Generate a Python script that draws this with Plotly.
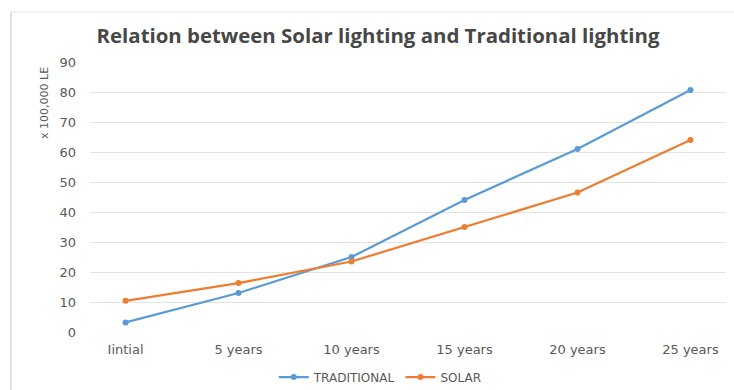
import plotly.graph_objects as go

categories = ["Iintial", "5 years", "10 years", "15 years", "20 years", "25 years"]
traditional = [3.2, 13.0, 25.0, 44.0, 61.0, 80.7]
solar = [10.4, 16.3, 23.5, 35.0, 46.5, 64.0]
y_ticks = [0, 10, 20, 30, 40, 50, 60, 70, 80, 90]

BLUE = "#5b9bd5"
ORANGE = "#ed7d31"
GRAY = "#595959"
FONT = "DejaVu Sans, sans-serif"

fig = go.Figure()
fig.add_trace(go.Scatter(x=categories, y=traditional, name="TRADITIONAL",
                         mode="lines+markers",
                         line=dict(color=BLUE, width=2.25),
                         marker=dict(color=BLUE, size=6)))
fig.add_trace(go.Scatter(x=categories, y=solar, name="SOLAR",
                         mode="lines+markers",
                         line=dict(color=ORANGE, width=2.25),
                         marker=dict(color=ORANGE, size=6)))

W, H = 734, 390
left, right_x = 90, 726
top, bottom = 62, 332.5

fig.update_layout(
    width=W, height=H,
    margin=dict(l=left, r=W - right_x, t=top, b=H - bottom, autoexpand=False),
    paper_bgcolor="white", plot_bgcolor="white",
    font=dict(family=FONT, color=GRAY, size=12),
    title=dict(text="<b>Relation between Solar lighting and Traditional lighting</b>",
               x=378 / W, xanchor="center", y=1 - 36 / H, yanchor="middle",
               font=dict(family="Open Sans, sans-serif", size=20.4, color="#474747")),
    xaxis=dict(type="category", showgrid=False, showline=False, zeroline=False,
               automargin=False,
               ticks="", tickfont=dict(family=FONT, size=13, color=GRAY), ticklabelstandoff=8),
    yaxis=dict(range=[0, 90], tickvals=y_ticks, showgrid=True, gridcolor="#e3e3e3",
               gridwidth=1, zeroline=False, showline=False, ticks="", automargin=False,
               tickfont=dict(family=FONT, size=13, color=GRAY), ticklabelstandoff=13),
    legend=dict(orientation="h", x=335 / W, xanchor="center", y=1 - 377 / H,
                yanchor="middle", yref="container",
                font=dict(family=FONT, size=12, color=GRAY),
                tracegroupgap=0),
    showlegend=True,
)

fig.add_annotation(text="x 100,000 LE", textangle=-90, xref="paper", yref="paper",
                   x=(45 - left) / (right_x - left), y=(bottom - 103) / (bottom - top),
                   xanchor="center", yanchor="middle", showarrow=False,
                   font=dict(family=FONT, size=11, color=GRAY))

# chart border (left & top faint lines)
fig.add_shape(type="line", xref="paper", yref="paper",
              x0=(11 - left) / (right_x - left), x1=(11 - left) / (right_x - left),
              y0=(bottom - 12) / (bottom - top), y1=(bottom - 395) / (bottom - top),
              line=dict(color="#d9d9d9", width=1.5))
fig.add_shape(type="line", xref="paper", yref="paper",
              x0=(11 - left) / (right_x - left), x1=(734 - left) / (right_x - left),
              y0=(bottom - 12) / (bottom - top), y1=(bottom - 12) / (bottom - top),
              line=dict(color="#eeeeee", width=1.5))

fig.write_html("out.html")
